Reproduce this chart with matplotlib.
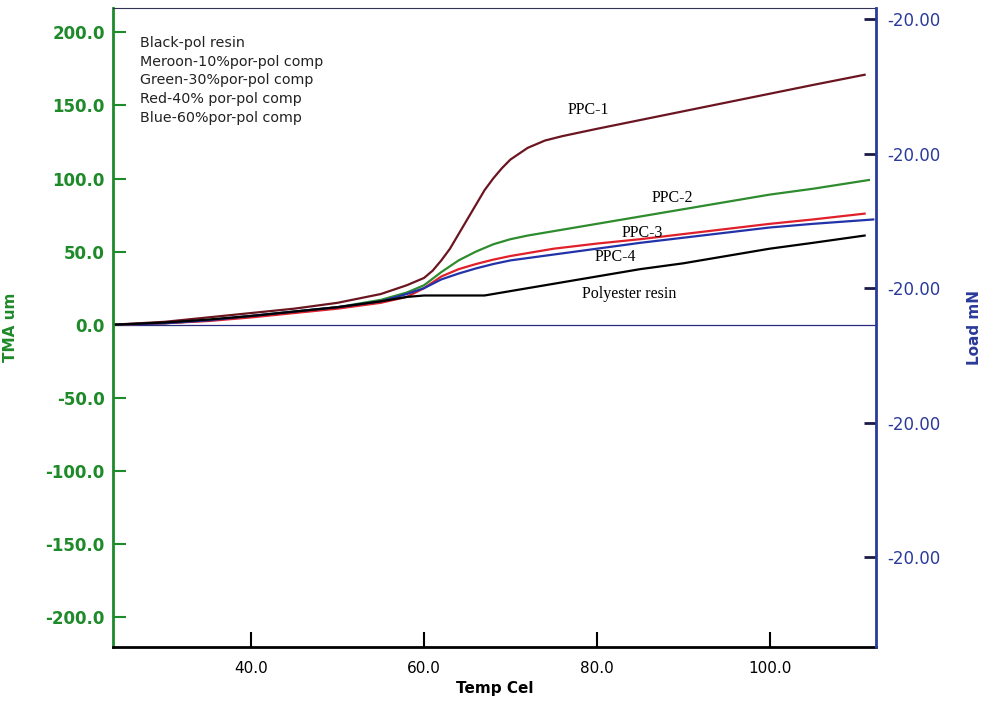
import matplotlib.pyplot as plt

# temperature (Cel) / TMA (um)
x_pol = [24, 30, 35, 40, 45, 50, 55, 58, 60, 64, 67, 70, 75, 80, 85, 90, 95, 100, 105, 111]
y_pol = [0, 1.5, 3.5, 6, 9, 12, 16, 19, 20, 20, 20, 23, 28, 33, 38, 42, 47, 52, 56, 61]

x_ppc1 = [24, 30, 35, 40, 45, 50, 55, 58, 60, 61, 62, 63, 64, 65, 66, 67, 68, 69, 70,
          72, 74, 76, 80, 85, 90, 95, 100, 105, 111]
y_ppc1 = [0, 2, 5, 8, 11, 15, 21, 27, 32, 37, 44, 52, 62, 72, 82, 92, 100, 107, 113,
          121, 126, 129, 134, 140, 146, 152, 158, 164, 171]

x_ppc2 = [24, 30, 35, 40, 45, 50, 55, 58, 60, 62, 64, 66, 68, 70, 72, 75, 80, 85, 90,
          95, 100, 105, 111.5]
y_ppc2 = [0, 1, 3, 6, 9, 12, 17, 22, 27, 36, 44, 50, 55, 58.5, 61, 64, 69, 74, 79,
          84, 89, 93, 99]

x_ppc3 = [24, 30, 35, 40, 45, 50, 55, 58, 60, 62, 64, 66, 68, 70, 75, 80, 85, 90, 95,
          100, 105, 111]
y_ppc3 = [0, 1, 2.5, 5, 8, 11, 15, 19, 25, 33, 38, 41.5, 44.5, 47, 52, 55.5, 58.5, 62,
          65.5, 69, 72, 76]

x_ppc4 = [24, 30, 35, 40, 45, 50, 55, 58, 60, 62, 64, 66, 68, 70, 75, 80, 85, 90, 95,
          100, 105, 112]
y_ppc4 = [0, 1, 3, 6, 9, 12, 16, 21, 25, 31, 35, 38.5, 41.5, 44, 48, 52, 56, 59.5, 63,
          66.5, 69, 72]

legend_lines = ['Black-pol resin', 'Meroon-10%por-pol comp', 'Green-30%por-pol comp',
                'Red-40% por-pol comp', 'Blue-60%por-pol comp']
left_ticks = [200, 150, 100, 50, 0, -50, -100, -150, -200]
bottom_ticks = [40, 60, 80, 100]
right_ticks = [209, 117, 25, -67, -159]
right_labels = ['-20.00'] * 5

green = '#1f8a2a'
navy = '#2a3a9a'

fig = plt.figure(figsize=(9.83, 7.09), dpi=100)
ax = fig.add_axes([0.115, 0.0874, 0.776, 0.902])

ax.plot(x_ppc1, y_ppc1, color='#6b1520', lw=1.6)
ax.plot(x_ppc2, y_ppc2, color='#2e8b2e', lw=1.6)
ax.plot(x_ppc3, y_ppc3, color='#e0202a', lw=1.6)
ax.plot(x_ppc4, y_ppc4, color='#2233aa', lw=1.6)
ax.plot(x_pol, y_pol, color='black', lw=1.6)
ax.axhline(0, color='#2a2a80', lw=0.9, zorder=0)

ax.set_xlim(24, 112.3)
ax.set_ylim(-220.5, 217)

ax.set_yticks(left_ticks)
ax.set_yticklabels([f'{v:.1f}' for v in left_ticks], color=green,
                   fontsize=12, fontweight='bold')
ax.set_xticks(bottom_ticks)
ax.set_xticklabels([f'{v:.1f}' for v in bottom_ticks], fontsize=11)
ax.tick_params(axis='y', direction='in', length=9, width=1.5, color=green, pad=6)
ax.tick_params(axis='x', direction='in', length=11, width=1.5, color='black', pad=10)

ax.spines['left'].set_color(green)
ax.spines['left'].set_linewidth(2)
ax.spines['bottom'].set_linewidth(2)
ax.spines['top'].set_color('#333355')
ax.spines['right'].set_visible(False)

ax.set_xlabel('Temp Cel', fontsize=11, fontweight='bold', labelpad=4)
ax.set_ylabel('TMA um', fontsize=11, fontweight='bold', color=green)
ax.yaxis.set_label_coords(-0.124, 0.5)

ax2 = ax.twinx()
ax2.set_ylim(ax.get_ylim())
ax2.set_yticks(right_ticks)
ax2.set_yticklabels(right_labels, color=navy, fontsize=12)
ax2.tick_params(axis='y', direction='in', length=9, width=2, color='#1a1a4a', pad=8)
ax2.spines['right'].set_color(navy)
ax2.spines['right'].set_linewidth(2)
for s in ['left', 'top', 'bottom']:
    ax2.spines[s].set_visible(False)
ax2.set_ylabel('Load mN', fontsize=11, fontweight='bold', color=navy)
ax2.yaxis.set_label_coords(1.12, 0.5)

for i, t in enumerate(legend_lines):
    ax.text(0.035, 0.944 - i * 0.029, t, transform=ax.transAxes, fontsize=10.3,
            va='center', ha='left', color='#222222')

serif = 'Liberation Serif'
ax.text(79, 147, 'PPC-1', family=serif, fontsize=11.5, ha='center', va='center')
ax.text(88.8, 87, 'PPC-2', family=serif, fontsize=11.5, ha='center', va='center')
ax.text(85.3, 63, 'PPC-3', family=serif, fontsize=11.5, ha='center', va='center')
ax.text(82.1, 46, 'PPC-4', family=serif, fontsize=11.5, ha='center', va='center')
ax.text(83.8, 21, 'Polyester resin', family=serif, fontsize=11.5, ha='center', va='center')

fig.savefig('out.png', dpi=100)
